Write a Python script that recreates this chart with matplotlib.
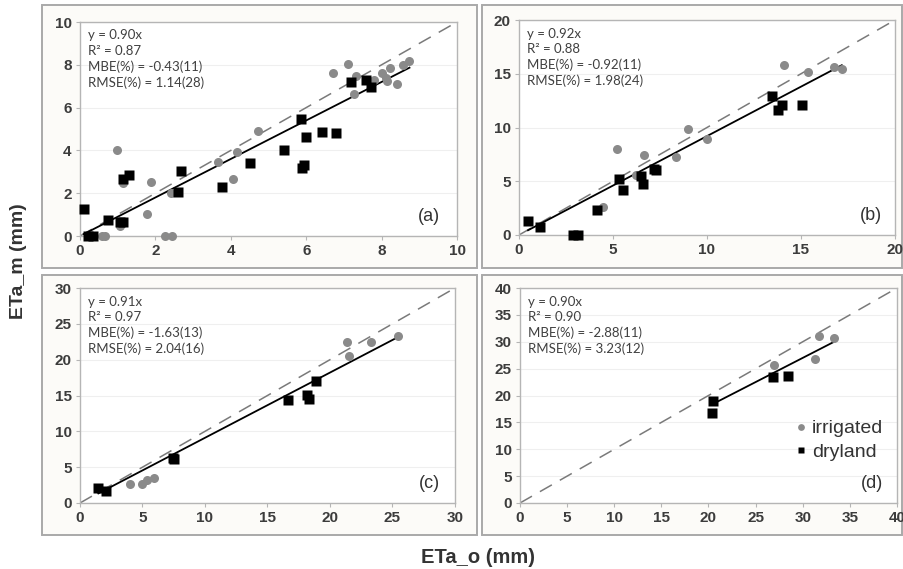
import numpy as np
import matplotlib
matplotlib.use("Agg")
import matplotlib.pyplot as plt
from matplotlib.patches import Rectangle

# panel (a)
a_irr_x = [0.58, 0.66, 0.97, 1.06, 1.15, 1.79, 1.88, 2.26, 2.43, 2.42, 3.67, 4.07, 4.16, 4.73,
           6.71, 7.12, 7.26, 7.33, 7.79, 8.01, 8.12, 8.14, 8.23, 8.41, 8.58, 8.74]
a_irr_y = [0.0, 0.0, 4.01, 0.47, 2.49, 1.04, 2.52, 0.0, 0.0, 1.99, 3.47, 2.67, 3.93, 4.90,
           7.62, 8.04, 6.64, 7.49, 7.31, 7.62, 7.39, 7.23, 7.85, 7.10, 8.01, 8.20]
a_dry_x = [0.10, 0.22, 0.35, 0.75, 1.06, 1.15, 1.15, 1.31, 2.61, 2.68, 3.76, 4.50, 5.42,
           5.86, 5.88, 5.93, 6.00, 6.43, 6.79, 7.19, 7.58, 7.72]
a_dry_y = [1.25, 0.0, 0.0, 0.73, 0.67, 0.64, 2.67, 2.83, 2.07, 3.03, 2.30, 3.39, 4.01,
           5.47, 3.19, 3.34, 4.62, 4.85, 4.81, 7.20, 7.28, 6.95]

# panel (b)
b_irr_x = [4.49, 5.19, 6.22, 6.66, 8.37, 9.01, 10.02, 14.12, 15.37, 16.73, 17.17]
b_irr_y = [2.64, 7.99, 5.60, 7.46, 7.22, 9.89, 8.93, 15.77, 15.15, 15.61, 15.40]
b_dry_x = [0.48, 1.13, 2.86, 3.13, 4.13, 5.34, 5.55, 6.48, 6.57, 7.19, 7.28, 13.46, 13.76, 13.99, 15.05]
b_dry_y = [1.31, 0.78, 0.0, 0.0, 2.33, 5.19, 4.14, 5.51, 4.76, 6.13, 6.07, 12.91, 11.66, 12.13, 12.13]

# panel (c)
c_irr_x = [4.00, 4.93, 5.39, 5.92, 21.39, 21.55, 23.25, 25.47]
c_irr_y = [2.66, 2.66, 3.27, 3.55, 22.49, 20.53, 22.49, 23.33]
c_dry_x = [1.47, 2.08, 7.41, 7.55, 16.67, 18.19, 18.35, 18.88]
c_dry_y = [2.10, 1.63, 6.21, 6.16, 14.33, 15.03, 14.56, 16.99]

# panel (d)
d_irr_x = [26.90, 31.33, 31.68, 33.35]
d_irr_y = [25.76, 26.70, 31.07, 30.63]
d_dry_x = [20.42, 20.53, 26.80, 28.39]
d_dry_y = [16.72, 18.90, 23.46, 23.71]

slopes = [0.90, 0.92, 0.91, 0.90]
stats = [
    ["y = 0.90x", "R² = 0.87", "MBE(%) = -0.43(11)", "RMSE(%) = 1.14(28)"],
    ["y = 0.92x", "R² = 0.88", "MBE(%) = -0.92(11)", "RMSE(%) = 1.98(24)"],
    ["y = 0.91x", "R² = 0.97", "MBE(%) = -1.63(13)", "RMSE(%) = 2.04(16)"],
    ["y = 0.90x", "R² = 0.90", "MBE(%) = -2.88(11)", "RMSE(%) = 3.23(12)"],
]
letters = ["(a)", "(b)", "(c)", "(d)"]
limits = [10, 20, 30, 40]
steps = [2, 5, 5, 5]

plt.rcParams["font.family"] = ["Liberation Sans", "DejaVu Sans"]

W, H = 904, 569
fig = plt.figure(figsize=(W / 100, H / 100), dpi=100)

# panel frames (pixel boxes)
frames = [(42, 5, 477, 268), (482, 5, 902, 268), (42, 275, 477, 535), (482, 275, 902, 535)]
for x0, y0, x1, y1 in frames:
    fig.patches.append(Rectangle((x0 / W, 1 - y1 / H), (x1 - x0) / W, (y1 - y0) / H,
                                 transform=fig.transFigure, facecolor="#fcfbf8",
                                 edgecolor="#a9a9a9", lw=1.4, zorder=-5))

boxes = [(80, 22, 457, 236), (519, 20, 895, 235), (80, 288, 455, 503), (520, 288, 897, 503)]
data = [(a_irr_x, a_irr_y, a_dry_x, a_dry_y), (b_irr_x, b_irr_y, b_dry_x, b_dry_y),
        (c_irr_x, c_irr_y, c_dry_x, c_dry_y), (d_irr_x, d_irr_y, d_dry_x, d_dry_y)]
label_x = [0.955, 0.965, 0.96, 0.963]

for i in range(4):
    x0, y0, x1, y1 = boxes[i]
    ax = fig.add_axes([x0 / W, 1 - y1 / H, (x1 - x0) / W, (y1 - y0) / H], zorder=2)
    ax.set_facecolor("white")
    ix, iy, dx, dy = data[i]
    lim = limits[i]
    ax.plot([0, lim], [0, lim], color="#7a7a7a", lw=1.1, dashes=(9, 6), zorder=1)
    allx = np.array(ix + dx)
    xs = np.array([allx.min(), allx.max()])
    ax.plot(xs, slopes[i] * xs, color="black", lw=1.3, zorder=2)
    ax.plot(ix, iy, "o", color="#8a8a8a", ms=6.5, mec="none", label="irrigated", zorder=3,
            clip_on=False)
    ax.plot(dx, dy, "s", color="black", ms=6.5, mec="none", label="dryland", zorder=4,
            clip_on=False)
    ax.set_xlim(0, lim)
    ax.set_ylim(0, lim)
    ticks = np.arange(0, lim + 0.1, steps[i])
    ax.set_xticks(ticks)
    ax.set_yticks(ticks)
    ax.yaxis.grid(True, color="#efefef", lw=0.8)
    ax.set_axisbelow(True)
    for s in ax.spines.values():
        s.set_color("#b5b5b5")
        s.set_linewidth(1.0)
    ax.tick_params(length=3, width=0.8, color="#b5b5b5", labelsize=11, labelcolor="#3c3c3c", pad=3)
    for t in ax.get_xticklabels() + ax.get_yticklabels():
        t.set_fontweight("bold")
    ax.text(0.022, 0.965, "\n".join(stats[i]), transform=ax.transAxes, va="top", ha="left",
            fontsize=9.5, color="#404040", family="Lato", linespacing=1.32)
    ax.text(label_x[i], 0.09, letters[i], transform=ax.transAxes, ha="right", va="center",
            fontsize=13, color="#333333")
    if i == 3:
        ax.legend(loc="lower right", bbox_to_anchor=(1.01, 0.115), frameon=False, fontsize=14,
                  handletextpad=0.1, labelspacing=0.3, markerscale=0.75, handlelength=0.9,
                  labelcolor="#333333")

fig.text(0.02, 0.541, "ETa_m (mm)", rotation=90, ha="center", va="center",
         fontsize=14, fontweight="bold", color="#333333")
fig.text(0.529, 0.021, "ETa_o (mm)", ha="center", va="center",
         fontsize=14.5, fontweight="bold", color="#333333")

fig.savefig("out.png", dpi=100, facecolor="white")
